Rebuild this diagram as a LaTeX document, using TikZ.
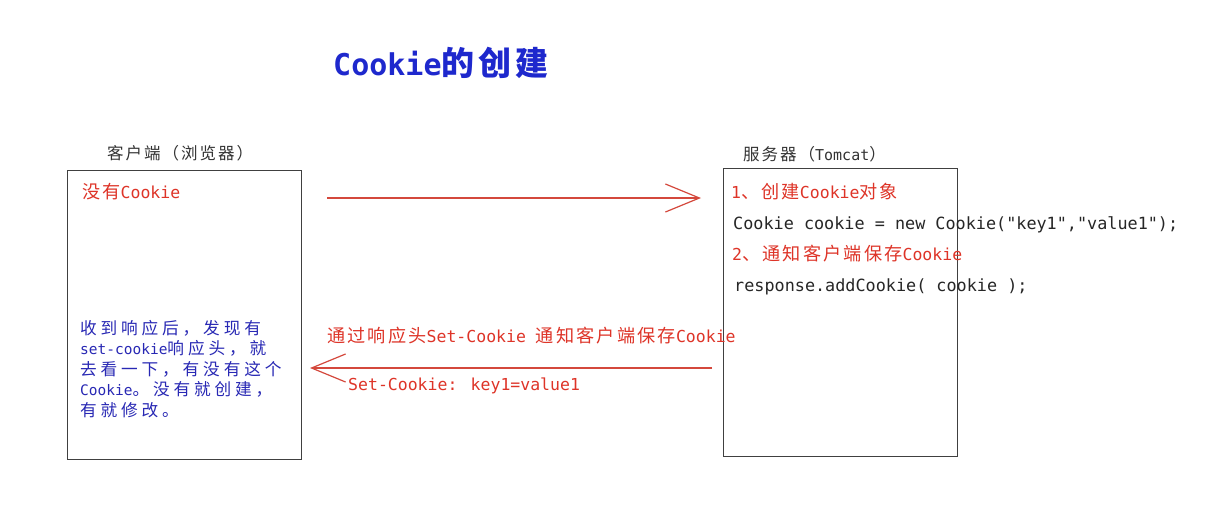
\documentclass[tikz,border=0pt]{standalone}
\usepackage{fontspec}
\setmainfont{DejaVu Sans Mono}
\newfontfamily\cjk[Scale=1.1,LetterSpace=12]{Noto Sans CJK SC}
\newfontfamily\cjkwide[Scale=1.15,LetterSpace=23]{Noto Sans CJK SC}
\newcommand{\zh}[1]{{\cjk #1}}
\newcommand{\zhw}[1]{{\cjkwide #1}}
\usetikzlibrary{arrows.meta,positioning}
\definecolor{noteRed}{RGB}{222,52,40}
\definecolor{arrowRed}{RGB}{212,72,60}
\definecolor{titleBlue}{RGB}{30,40,205}
\definecolor{noteBlue}{RGB}{40,40,180}

\begin{document}
\begin{tikzpicture}[x=1pt,y=-1pt,
  box/.style={draw=black!75,line width=1pt,inner sep=0pt,anchor=north west},
  txt/.style={inner sep=0pt,anchor=base west},
  msg/.style={draw=arrowRed,line width=1.2pt,
              -{Straight Barb[length=34pt,width=28pt]}},
  note/.style={txt,text=noteRed,font=\fontsize{16.5}{20}\selectfont},
  code/.style={txt,text=black!85,font=\fontsize{16.8}{20}\selectfont},
  head/.style={txt,text=black!80,font=\fontsize{15}{18}\selectfont}
]
\useasboundingbox[fill=white] (0,0) rectangle (1212,517);

% title
\node[txt,text=titleBlue,font=\fontsize{30}{36}\selectfont\bfseries]
  (title) at (333,75) {Cookie\zh{的创建}};

% the two sides
\node[box,minimum width=234pt,minimum height=289pt] (client) at (67,170) {};
\node[box,minimum width=234pt,minimum height=288pt] (server) at (723,168) {};
\node[head] (clientName) at (107,159) {\zh{客户端（浏览器）}};
\node[head] (serverName) at (743,160) {\zh{服务器（}Tomcat\zh{）}};

% client side
\node[note] (noCookie) at (82,198) {\zh{没有}Cookie};
\node[txt,anchor=north west,align=left,text=noteBlue,
      font=\fontsize{14.5}{20.5}\selectfont] (clientNote) at (80,320)
  {\zhw{收到响应后，发现有}\\
   set-cookie\zhw{响应头，就}\\
   \zhw{去看一下，有没有这个}\\
   Cookie\zhw{。没有就创建，}\\
   \zhw{有就修改。}};

% server side
\node[note] (step1) at (731,198) {1\zh{、创建}Cookie\zh{对象}};
\node[code] (newCookie) at (733,229)
  {Cookie cookie = new Cookie(\textquotedbl key1\textquotedbl,\textquotedbl value1\textquotedbl);};
\node[note] (step2) at (732,260) {2\zh{、通知客户端保存}Cookie};
\node[code] (addCookie) at (734,291) {response.addCookie( cookie );};

% request / response
\coordinate (reqFrom) at (327,198);
\coordinate (reqTo) at (701,198);
\coordinate (respFrom) at (712,368);
\coordinate (respTo) at (310,368);
\draw[msg] (reqFrom) -- (reqTo);
\draw[msg] (respFrom) -- (respTo);
\node[note] (respLabel) at (327,342)
  {\zh{通过响应头}Set-Cookie \zh{通知客户端保存}Cookie};
\node[note] (respHeader) at (348,390) {Set-Cookie: key1=value1};
\end{tikzpicture}
\end{document}
